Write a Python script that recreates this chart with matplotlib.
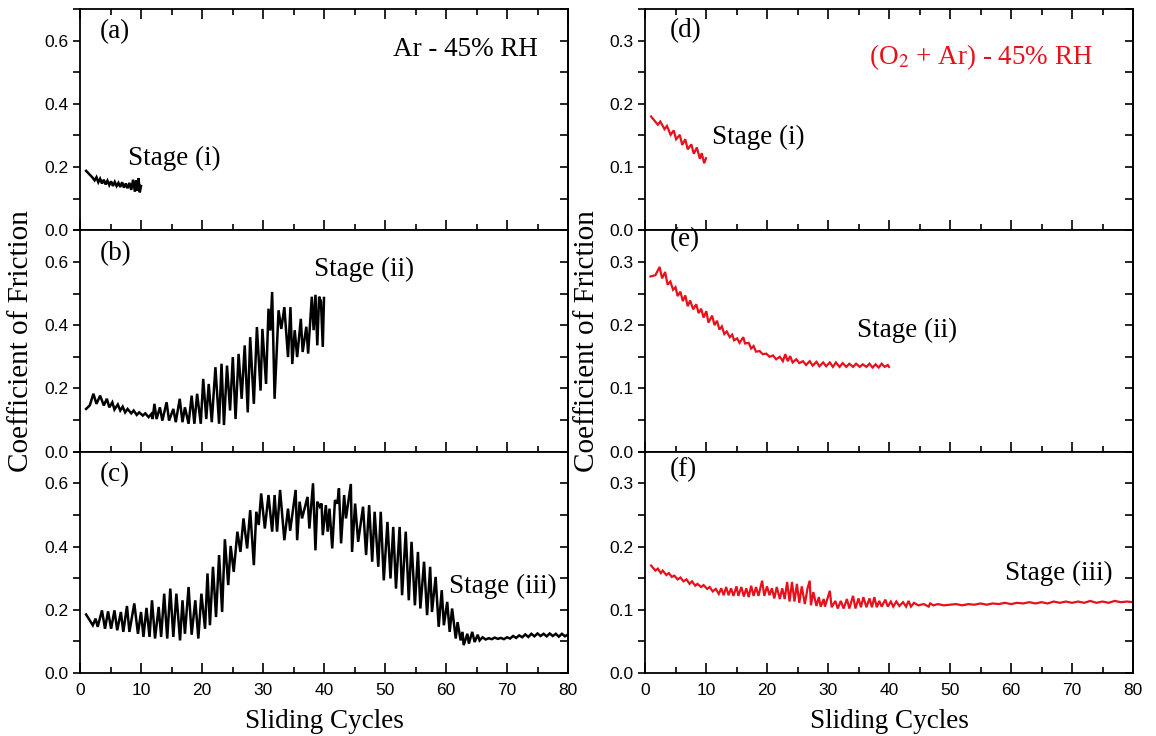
import matplotlib
matplotlib.use("Agg")
import matplotlib.pyplot as plt
from matplotlib.ticker import MultipleLocator, FormatStrFormatter

plt.rcParams['mathtext.fontset'] = 'stix'

SERIF = 'Liberation Serif'
SANS = 'Liberation Sans'
RED = '#e8101a'

# ---------------- Ar - 45% RH (left column) ----------------
# (a) stage (i)
a_cycle = [1.0, 1.5, 2.0, 2.4, 2.7, 3.0, 3.3, 3.6, 3.9, 4.2,
           4.5, 4.8, 5.1, 5.4, 5.7, 6.0, 6.3, 6.6, 6.9, 7.2,
           7.5, 7.8, 8.1, 8.4, 8.7, 9.0, 9.2, 9.4, 9.6, 9.8,
           10.0]
a_cof = [0.188, 0.178, 0.168, 0.158, 0.168, 0.152, 0.163, 0.148, 0.160, 0.145,
         0.157, 0.143, 0.155, 0.140, 0.153, 0.140, 0.150, 0.137, 0.152, 0.135,
         0.148, 0.133, 0.150, 0.128, 0.160, 0.122, 0.158, 0.125, 0.165, 0.120,
         0.140]

# (b) stage (ii)
b_cycle = [1.0, 1.6, 2.2, 2.7, 3.3, 3.9, 4.4, 4.8, 5.3, 5.65,
           6.2, 6.6, 7.0, 7.4, 7.8, 8.4, 8.8, 9.3, 9.7, 10.3,
           10.7, 11.25, 11.7, 11.9, 12.2, 12.55, 13.1, 13.5, 14.2, 14.6,
           15.3, 15.7, 16.35, 16.8, 17.2, 17.8, 18.3, 18.75, 19.2, 19.8,
           20.2, 20.7, 21.1, 21.6, 22.2, 22.8, 23.2, 23.6, 24.1, 24.6,
           25.05, 25.5, 26.0, 26.5, 27.0, 27.5, 27.9, 28.5, 29.0, 29.6,
           29.9, 30.5, 30.9, 31.2, 31.5, 31.9, 32.55, 33.0, 33.5, 34.1,
           34.5, 34.8, 35.2, 35.6, 36.2, 36.5, 37.1, 37.4, 38.0, 38.3,
           38.6, 38.9, 39.2, 39.5, 39.8, 40.0]
b_cof = [0.135, 0.146, 0.183, 0.151, 0.177, 0.146, 0.167, 0.140, 0.156, 0.133,
         0.149, 0.130, 0.142, 0.124, 0.135, 0.121, 0.130, 0.116, 0.124, 0.114,
         0.121, 0.109, 0.119, 0.103, 0.151, 0.103, 0.140, 0.098, 0.156, 0.098,
         0.135, 0.093, 0.167, 0.093, 0.140, 0.088, 0.177, 0.088, 0.183, 0.088,
         0.230, 0.103, 0.214, 0.093, 0.267, 0.088, 0.278, 0.084, 0.272, 0.130,
         0.299, 0.103, 0.309, 0.167, 0.336, 0.124, 0.362, 0.151, 0.394, 0.193,
         0.388, 0.214, 0.452, 0.383, 0.505, 0.167, 0.447, 0.388, 0.457, 0.299,
         0.457, 0.277, 0.384, 0.299, 0.420, 0.315, 0.395, 0.310, 0.490, 0.384,
         0.496, 0.336, 0.490, 0.475, 0.331, 0.486]

# (c) stage (iii)
c_cycle = [1.0, 2.1, 2.55, 2.9, 3.6, 4.1, 4.6, 5.1, 5.65, 6.1,
           6.7, 7.1, 7.7, 8.1, 8.9, 9.5, 10.0, 10.4, 10.9, 11.4,
           11.8, 12.3, 12.9, 13.3, 13.8, 14.3, 14.8, 15.3, 15.8, 16.4,
           16.8, 17.2, 17.8, 18.3, 18.9, 19.4, 19.9, 20.5, 20.9, 21.3,
           21.8, 22.3, 22.8, 23.3, 23.75, 24.3, 24.7, 25.2, 25.8, 26.3,
           26.8, 27.4, 27.9, 28.5, 28.9, 29.3, 29.7, 30.3, 30.9, 31.5,
           31.9, 32.3, 32.8, 33.5, 34.1, 34.45, 35.35, 35.6, 36.0, 36.4,
           37.3, 37.6, 38.2, 38.6, 38.9, 39.3, 39.6, 39.8, 40.3, 40.6,
           40.9, 41.35, 41.8, 42.2, 42.45, 42.8, 43.3, 43.6, 44.4, 44.6,
           45.1, 45.6, 46.4, 46.9, 47.4, 47.9, 48.3, 48.9, 49.3, 49.8,
           50.4, 50.9, 51.35, 51.8, 52.4, 52.8, 53.4, 53.9, 54.35, 54.9,
           55.4, 55.8, 56.4, 56.9, 57.4, 57.7, 58.3, 58.8, 59.3, 59.65,
           60.2, 60.6, 61.0, 61.6, 61.9, 62.4, 62.7, 62.9, 63.5, 63.75,
           64.3, 64.7, 65.2, 65.5, 66.0, 66.5, 67.0, 67.5, 68.0, 68.5,
           69.0, 69.5, 70.0, 70.5, 71.0, 71.5, 72.0, 72.5, 73.0, 73.5,
           74.0, 74.5, 75.0, 75.5, 76.0, 76.5, 77.0, 77.5, 78.0, 78.5,
           79.0, 79.5, 80.0]
c_cof = [0.185, 0.151, 0.172, 0.146, 0.198, 0.140, 0.195, 0.140, 0.198, 0.135,
         0.193, 0.130, 0.212, 0.130, 0.220, 0.124, 0.193, 0.114, 0.206, 0.114,
         0.230, 0.109, 0.209, 0.114, 0.251, 0.109, 0.267, 0.114, 0.251, 0.103,
         0.230, 0.124, 0.272, 0.121, 0.230, 0.109, 0.251, 0.140, 0.315, 0.151,
         0.336, 0.177, 0.373, 0.193, 0.423, 0.278, 0.402, 0.320, 0.447, 0.383,
         0.489, 0.394, 0.515, 0.341, 0.510, 0.468, 0.568, 0.457, 0.563, 0.447,
         0.563, 0.447, 0.579, 0.420, 0.520, 0.450, 0.579, 0.420, 0.542, 0.489,
         0.557, 0.457, 0.600, 0.388, 0.542, 0.526, 0.536, 0.436, 0.531, 0.447,
         0.520, 0.394, 0.547, 0.536, 0.584, 0.410, 0.563, 0.489, 0.598, 0.383,
         0.536, 0.415, 0.526, 0.373, 0.531, 0.352, 0.510, 0.336, 0.510, 0.293,
         0.478, 0.299, 0.462, 0.267, 0.462, 0.246, 0.447, 0.230, 0.415, 0.214,
         0.383, 0.204, 0.352, 0.183, 0.336, 0.193, 0.304, 0.146, 0.262, 0.151,
         0.225, 0.130, 0.204, 0.109, 0.161, 0.103, 0.130, 0.088, 0.124, 0.093,
         0.130, 0.098, 0.121, 0.103, 0.113, 0.106, 0.110, 0.107, 0.112, 0.108,
         0.111, 0.107, 0.113, 0.109, 0.117, 0.111, 0.119, 0.113, 0.122, 0.114,
         0.124, 0.116, 0.125, 0.117, 0.124, 0.116, 0.125, 0.117, 0.124, 0.115,
         0.124, 0.116, 0.122]

# ---------------- (O2 + Ar) - 45% RH (right column) ----------------
# (d) stage (i)
d_cycle = [1.0, 2.1, 2.5, 3.2, 3.6, 4.2, 4.7, 5.1, 5.7, 6.1,
           6.6, 7.0, 7.6, 8.0, 8.5, 9.0, 9.3, 9.7, 10.0]
d_cof = [0.180, 0.167, 0.172, 0.160, 0.165, 0.151, 0.158, 0.144, 0.151, 0.135,
         0.144, 0.128, 0.136, 0.121, 0.131, 0.113, 0.122, 0.106, 0.114]

# (e) stage (ii)
e_cycle = [0.9, 1.7, 2.4, 2.8, 3.3, 3.7, 4.15, 4.6, 5.0, 5.35,
           5.8, 6.2, 6.6, 7.0, 7.4, 7.9, 8.4, 8.8, 9.2, 9.6,
           10.05, 10.4, 11.0, 11.4, 11.8, 12.2, 12.6, 13.0, 13.4, 13.9,
           14.3, 14.6, 15.1, 15.5, 16.1, 16.4, 17.0, 17.4, 17.8, 18.2,
           18.8, 19.3, 19.9, 20.4, 21.0, 21.5, 22.1, 22.6, 23.0, 23.4,
           23.8, 24.2, 24.8, 25.3, 25.9, 26.4, 27.0, 27.5, 28.1, 28.6,
           29.2, 29.7, 30.3, 30.8, 31.3, 31.9, 32.4, 33.0, 33.5, 34.1,
           34.6, 35.2, 35.7, 36.3, 36.8, 37.3, 37.8, 38.3, 38.8, 39.3,
           39.8, 40.0]
e_cof = [0.277, 0.279, 0.292, 0.274, 0.284, 0.264, 0.269, 0.256, 0.260, 0.246,
         0.253, 0.238, 0.247, 0.230, 0.239, 0.225, 0.233, 0.219, 0.226, 0.212,
         0.222, 0.204, 0.215, 0.200, 0.207, 0.193, 0.198, 0.186, 0.190, 0.181,
         0.185, 0.176, 0.179, 0.172, 0.181, 0.171, 0.172, 0.163, 0.167, 0.158,
         0.159, 0.154, 0.155, 0.150, 0.152, 0.146, 0.150, 0.143, 0.154, 0.143,
         0.151, 0.141, 0.146, 0.140, 0.143, 0.137, 0.143, 0.136, 0.142, 0.135,
         0.141, 0.135, 0.141, 0.134, 0.141, 0.134, 0.140, 0.134, 0.139, 0.134,
         0.139, 0.134, 0.138, 0.134, 0.139, 0.133, 0.138, 0.133, 0.139, 0.134,
         0.137, 0.134]

# (f) stage (iii)
f_cycle = [1.0, 1.7, 2.1, 2.6, 2.9, 3.5, 3.9, 4.4, 4.8, 5.35,
           5.8, 6.3, 6.8, 7.3, 7.7, 8.25, 8.6, 9.2, 9.6, 10.2,
           10.6, 11.1, 11.6, 12.1, 12.5, 12.9, 13.3, 13.7, 14.1, 14.5,
           15.0, 15.3, 15.8, 16.2, 16.6, 17.0, 17.4, 17.8, 18.2, 18.6,
           19.2, 19.55, 20.0, 20.4, 20.8, 21.2, 21.6, 22.1, 22.5, 22.9,
           23.3, 23.7, 24.1, 24.5, 24.9, 25.3, 25.7, 26.2, 26.65, 27.0,
           27.2, 27.6, 28.1, 28.5, 28.8, 29.3, 29.5, 30.3, 30.6, 31.2,
           31.6, 32.1, 32.55, 33.1, 33.5, 34.1, 34.5, 35.0, 35.4, 35.8,
           36.3, 36.8, 37.2, 37.6, 38.0, 38.4, 38.8, 39.4, 39.8, 40.3,
           40.7, 41.2, 41.7, 42.3, 42.8, 43.2, 43.6, 44.1, 44.8, 45.7,
           46.5, 46.75, 47.3, 48.0, 49.0, 50.0, 51.0, 52.0, 53.0, 54.0,
           55.0, 56.0, 57.0, 58.0, 59.0, 60.0, 61.0, 62.0, 63.0, 64.0,
           65.0, 66.0, 67.0, 68.0, 69.0, 70.0, 71.0, 72.0, 73.0, 74.0,
           75.0, 76.0, 77.0, 78.0, 79.0, 80.0]
f_cof = [0.170, 0.162, 0.165, 0.158, 0.162, 0.155, 0.158, 0.152, 0.154, 0.148,
         0.151, 0.145, 0.148, 0.141, 0.145, 0.138, 0.141, 0.136, 0.139, 0.133,
         0.136, 0.129, 0.133, 0.125, 0.134, 0.123, 0.136, 0.123, 0.134, 0.122,
         0.137, 0.122, 0.136, 0.121, 0.134, 0.120, 0.138, 0.122, 0.136, 0.122,
         0.146, 0.122, 0.137, 0.123, 0.134, 0.118, 0.136, 0.117, 0.134, 0.117,
         0.144, 0.113, 0.144, 0.113, 0.141, 0.111, 0.137, 0.109, 0.134, 0.146,
         0.107, 0.128, 0.106, 0.120, 0.105, 0.117, 0.105, 0.130, 0.104, 0.114,
         0.102, 0.114, 0.102, 0.117, 0.102, 0.122, 0.102, 0.118, 0.104, 0.120,
         0.104, 0.118, 0.104, 0.120, 0.104, 0.114, 0.105, 0.116, 0.105, 0.113,
         0.105, 0.113, 0.106, 0.112, 0.105, 0.114, 0.105, 0.111, 0.107, 0.109,
         0.105, 0.110, 0.107, 0.109, 0.107, 0.108, 0.109, 0.107, 0.109, 0.108,
         0.110, 0.108, 0.110, 0.109, 0.111, 0.109, 0.111, 0.110, 0.112, 0.110,
         0.112, 0.110, 0.113, 0.111, 0.113, 0.111, 0.113, 0.111, 0.114, 0.111,
         0.113, 0.111, 0.114, 0.112, 0.113, 0.112]

panel_letters = ['(a)', '(b)', '(c)', '(d)', '(e)', '(f)']
stage_labels = ['Stage (i)', 'Stage (ii)', 'Stage (iii)']
left_title = 'Ar - 45% RH'
right_title = '(O$_2$ + Ar) - 45% RH'
y_label = 'Coefficient of Friction'
x_label = 'Sliding Cycles'

# ---------------- layout ----------------
W, H = 1156, 736
fig = plt.figure(figsize=(W / 100, H / 100), dpi=100)

col_left = [80, 645]
col_width = 488
row_top = [9, 230.3, 451.7]
row_h = 221.3


def make_axes(col, row):
    x0 = col_left[col]
    y0 = row_top[row]
    return fig.add_axes([x0 / W, 1 - (y0 + row_h) / H, col_width / W, row_h / H])


def style_axes(ax, ymax, ymajor, yminor, top_row, bottom_row):
    ax.set_xlim(0, 80)
    ax.set_ylim(0, ymax)
    ax.xaxis.set_major_locator(MultipleLocator(10))
    ax.xaxis.set_minor_locator(MultipleLocator(5))
    ax.yaxis.set_major_locator(MultipleLocator(ymajor))
    ax.yaxis.set_minor_locator(MultipleLocator(yminor))
    ax.yaxis.set_major_formatter(FormatStrFormatter('%.1f'))
    for sp in ax.spines.values():
        sp.set_linewidth(1.3)
    ax.tick_params(axis='x', which='both', direction='in', bottom=True,
                   top=top_row, labelbottom=bottom_row, width=1.2, pad=7)
    ax.tick_params(axis='x', which='major', length=7)
    ax.tick_params(axis='x', which='minor', length=4)
    ax.tick_params(axis='y', which='both', direction='out', left=True,
                   right=False, width=1.2, pad=3)
    ax.tick_params(axis='y', which='major', length=5)
    ax.tick_params(axis='y', which='minor', length=5)
    for lab in ax.get_xticklabels() + ax.get_yticklabels():
        lab.set_fontfamily(SANS)
        lab.set_fontsize(12.5)
    # inward ticks on the right spine
    sec = ax.secondary_yaxis('right')
    sec.yaxis.set_major_locator(MultipleLocator(ymajor))
    sec.yaxis.set_minor_locator(MultipleLocator(yminor))
    sec.tick_params(axis='y', which='both', direction='in', labelright=False,
                    width=1.2, length=6)
    sec.spines['right'].set_linewidth(1.3)


text_kw = dict(fontsize=19.5, family=SERIF, va='center')

left_data = [(a_cycle, a_cof), (b_cycle, b_cof), (c_cycle, c_cof)]
right_data = [(d_cycle, d_cof), (e_cycle, e_cof), (f_cycle, f_cof)]

left_axes = []
for row, (xs, ys) in enumerate(left_data):
    ax = make_axes(0, row)
    ax.plot(xs, ys, color='black', lw=1.8, solid_joinstyle='miter')
    style_axes(ax, 0.7, 0.2, 0.1, row == 0, row == 2)
    ax.text(3.3, 0.627, panel_letters[row], ha='left', **text_kw)
    left_axes.append(ax)

right_axes = []
for row, (xs, ys) in enumerate(right_data):
    ax = make_axes(1, row)
    ax.plot(xs, ys, color=RED, lw=1.6, solid_joinstyle='miter')
    style_axes(ax, 0.35, 0.1, 0.05, row == 0, row == 2)
    ax.text(4.0, [0.316, 0.335, 0.322][row], panel_letters[3 + row],
            ha='left', **text_kw)
    right_axes.append(ax)

# headers and stage labels
left_axes[0].text(75.1, 0.572, left_title, ha='right', **text_kw)
left_axes[0].text(7.8, 0.228, stage_labels[0], ha='left', **text_kw)
left_axes[1].text(38.4, 0.577, stage_labels[1], ha='left', **text_kw)
left_axes[2].text(78.1, 0.275, stage_labels[2], ha='right', **text_kw)

right_axes[0].text(73.4, 0.274, right_title, ha='right', color=RED, **text_kw)
right_axes[0].text(11.0, 0.147, stage_labels[0], ha='left', **text_kw)
right_axes[1].text(34.8, 0.191, stage_labels[1], ha='left', **text_kw)
right_axes[2].text(76.6, 0.157, stage_labels[2], ha='right', **text_kw)

# shared axis titles
y_mid = 1 - (row_top[0] + 3 * row_h / 2) / H
fig.text(21 / W, y_mid, y_label, rotation=90, ha='center', va='center',
         fontsize=21, family=SERIF)
fig.text(587 / W, y_mid, y_label, rotation=90, ha='center', va='center',
         fontsize=21, family=SERIF)
for col in range(2):
    xc = (col_left[col] + col_width / 2) / W
    fig.text(xc, 1 - 721 / H, x_label, ha='center', va='center',
             fontsize=19.5, family=SERIF)

fig.savefig('out.png', dpi=100)
